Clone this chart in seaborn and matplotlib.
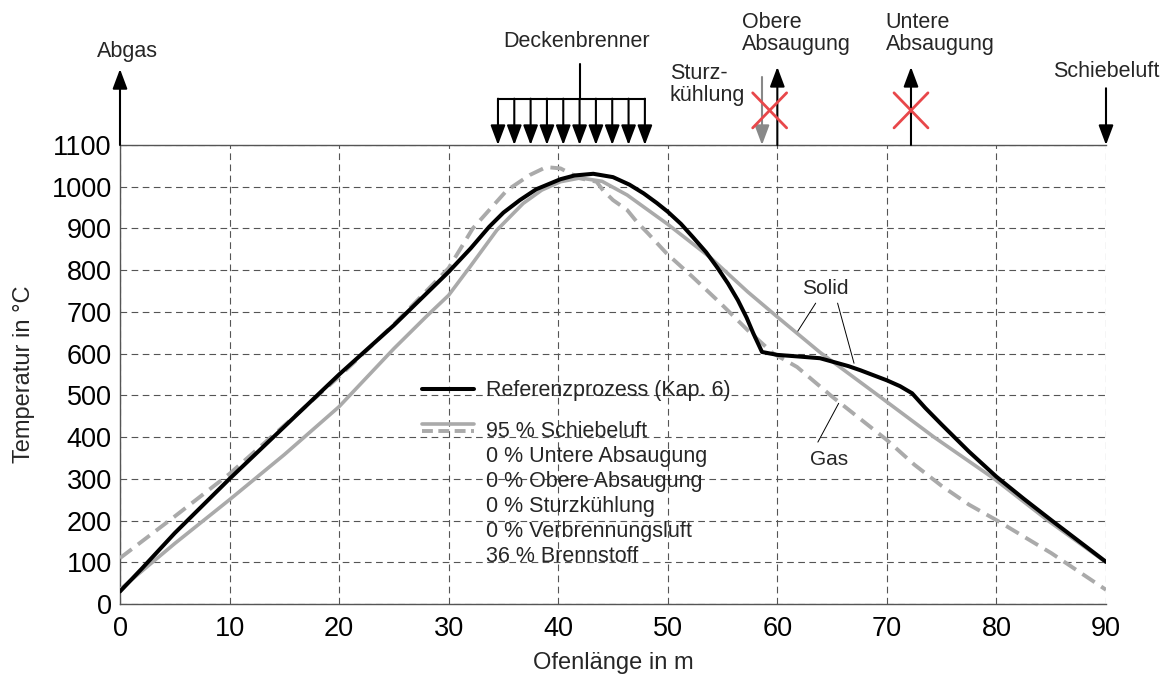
import numpy as np
import pandas as pd
import matplotlib
matplotlib.use("Agg")
import matplotlib.pyplot as plt
import seaborn as sns
from matplotlib.lines import Line2D
from matplotlib.legend_handler import HandlerBase

# ---------------- data ----------------
ref_x = [0, 2, 5, 10, 15, 20, 25, 30, 32, 33.7, 35, 36.5, 38, 40.2, 41.5, 43.2, 45, 46.5,
         47.8, 49, 50, 51.2, 52.3, 53.5, 54.5, 55.5, 56.4, 57.2, 57.8, 58.6, 60, 62, 63.9,
         65, 66.5, 67.6, 69, 70, 71.2, 72.3, 73.5, 75, 77.5, 80, 82.5, 85, 87.5, 90]
ref_y = [30, 85, 170, 300, 425, 550, 668, 796, 852, 904, 938, 968, 994, 1018, 1027, 1031,
         1023, 1005, 984, 961, 940, 911, 879, 843, 807, 768, 728, 686, 649, 604, 597, 593,
         589, 581, 570, 560, 546, 536, 522, 505, 470, 430, 365, 305, 252, 201, 151, 101]

solid_x = [0, 5, 10, 15, 20, 25, 28, 30, 32, 34.4, 36.8, 38.5, 40.2, 42, 44, 46.3, 50,
           53.9, 57.3, 60, 63.9, 69.2, 74.3, 79.8, 84.7, 90]
solid_y = [35, 145, 250, 358, 473, 612, 690, 740, 810, 896, 960, 992, 1012, 1021, 1013,
           980, 910, 830, 748, 688, 603, 500, 400, 300, 200, 100]

gas_x = [0, 5, 10, 15, 20, 25, 30, 32.2, 35.3, 37.4, 38.9, 40.2, 42, 43.5, 44.1, 45,
         46.3, 47.2, 48.2, 49.9, 52.3, 54.8, 57.3, 59.6, 61.8, 65, 70, 72.5, 75, 77.5,
         80, 85, 90]
gas_y = [110, 210, 312, 428, 545, 670, 805, 900, 991, 1028, 1047, 1044, 1020, 1012, 991,
         968, 944, 915, 888, 840, 783, 721, 656, 601, 568, 497, 393, 334, 283, 238,
         201, 122, 34]

x_ticks = list(range(0, 91, 10))
y_ticks = list(range(0, 1101, 100))

legend_ref = "Referenzprozess (Kap. 6)"
legend_lines = ["95 % Schiebeluft", "0 % Untere Absaugung", "0 % Obere Absaugung",
                "0 % Sturzkühlung", "0 % Verbrennungsluft", "36 % Brennstoff"]

burner_x = [34.5 + i * 1.49 for i in range(10)]

# ---------------- style ----------------
sns.set_style("white")
plt.rcParams["font.family"] = ["Liberation Sans", "DejaVu Sans"]

GRAY = "#aaaaaa"
fig = plt.figure(figsize=(11.68, 6.81), dpi=100)
ax = fig.add_axes([120 / 1168, 1 - 604 / 681, (1106 - 120) / 1168, (604 - 145) / 681])

df_solid = pd.DataFrame({"x": solid_x, "y": solid_y})
df_gas = pd.DataFrame({"x": gas_x, "y": gas_y})
df_ref = pd.DataFrame({"x": ref_x, "y": ref_y})

sns.lineplot(data=df_solid, x="x", y="y", ax=ax, color=GRAY, lw=2.6, zorder=3)
l_solid = ax.lines[-1]
sns.lineplot(data=df_gas, x="x", y="y", ax=ax, color=GRAY, lw=2.8, zorder=3)
l_gas = ax.lines[-1]
l_gas.set_dashes([3.8, 2.0])
l_gas.set_dash_capstyle("butt")
sns.lineplot(data=df_ref, x="x", y="y", ax=ax, color="black", lw=2.9, zorder=4)
l_ref = ax.lines[-1]
for ln in (l_solid, l_gas, l_ref):
    ln.set_solid_joinstyle("round")
    ln.set_dash_joinstyle("round")

ax.set_xlim(0, 90)
ax.set_ylim(0, 1100)
ax.set_xticks(x_ticks)
ax.set_yticks(y_ticks)
ax.tick_params(axis="both", length=0, labelsize=19.5, colors="black")
ax.tick_params(axis="y", pad=6)
ax.tick_params(axis="x", pad=9)
ax.set_xlabel("Ofenlänge in m", fontsize=17, labelpad=7)
ax.set_ylabel("Temperatur in °C", fontsize=17, labelpad=12)

ax.grid(True, color="#555555", lw=0.8, linestyle=(0, (6, 4)), zorder=1)
for s in ["left", "bottom", "top"]:
    ax.spines[s].set_color("#555555")
    ax.spines[s].set_linewidth(1.0)
ax.spines["right"].set_visible(False)

# ---------------- legends ----------------
class TwoLineHandler(HandlerBase):
    def create_artists(self, legend, orig_handle, xdescent, ydescent, width, height,
                       fontsize, trans):
        y0 = height / 2 - ydescent
        a = Line2D([-xdescent, width - xdescent], [y0 + 0.38 * height] * 2,
                   color=GRAY, lw=2.6, transform=trans)
        b = Line2D([-xdescent, width - xdescent], [y0 - 0.12 * height] * 2,
                   color=GRAY, lw=2.8, transform=trans)
        b.set_dashes([2.8, 1.4])
        b.set_dash_capstyle("butt")
        return [a, b]

LFS = 15.5
leg1 = ax.legend([l_ref], [legend_ref], loc="center left",
                 bbox_to_anchor=((423 - 121) / 985, (604 - 390.7) / 459),
                 frameon=False, fontsize=LFS, handlelength=2.4, handletextpad=0.55,
                 borderpad=0, borderaxespad=0)
ax.add_artist(leg1)

blank = [Line2D([], [], linestyle="none") for _ in legend_lines[1:]]
leg2 = ax.legend([(l_solid, l_gas)] + blank, legend_lines, loc="upper left",
                 bbox_to_anchor=((423 - 121) / 985, (604 - 421) / 459),
                 frameon=False, fontsize=LFS, handlelength=2.4, handletextpad=0.55,
                 labelspacing=0.19, borderpad=0, borderaxespad=0,
                 handler_map={tuple: TwoLineHandler()})

# ---------------- Solid / Gas labels ----------------
ax.text(64.4, 757, "Solid", fontsize=15, ha="center", va="center")
ax.plot([63.5, 61.8], [721, 651], color="black", lw=0.7)
ax.plot([65.5, 67.0], [721, 577], color="black", lw=0.7)
ax.text(64.7, 347, "Gas", fontsize=15, ha="center", va="center")
ax.plot([63.7, 65.6], [388, 481], color="black", lw=0.7)

# ---------------- top annotations ----------------
AP = dict(arrowstyle="-|>,head_length=1.2,head_width=0.45", lw=1.5, color="black",
          shrinkA=0, shrinkB=0, mutation_scale=10)

def arrow(x0, y0, x1, y1, color="black"):
    p = dict(AP)
    p["color"] = color
    ax.annotate("", xy=(x1, y1), xytext=(x0, y0), arrowprops=p, annotation_clip=False)

def cross(xc, yc, color="#e8474a"):
    ax.plot([xc - 1.55, xc + 1.55], [yc + 42, yc - 42], color=color, lw=2.0, clip_on=False, zorder=6)
    ax.plot([xc - 1.55, xc + 1.55], [yc - 42, yc + 42], color=color, lw=2.0, clip_on=False, zorder=6)

FS = 15.5
# Abgas
arrow(0, 1100, 0, 1282)
ax.text(0.65, 1323, "Abgas", fontsize=FS, ha="center", va="center")
# Deckenbrenner
ax.text(41.7, 1349, "Deckenbrenner", fontsize=FS, ha="center", va="center")
ax.plot([42, 42], [1211, 1295], color="black", lw=1.5, clip_on=False)
ax.plot([burner_x[0], burner_x[-1]], [1211, 1211], color="black", lw=1.5, clip_on=False)
for bx in burner_x:
    arrow(bx, 1211, bx, 1100)
# Sturzkühlung
ax.text(50.2, 1245, "Sturz-\nkühlung", fontsize=FS, ha="left", va="center", linespacing=1.1)
arrow(58.6, 1263, 58.6, 1100, color="#888888")
# Obere Absaugung
arrow(60, 1100, 60, 1287)
ax.text(56.8, 1367, "Obere\nAbsaugung", fontsize=FS, ha="left", va="center", linespacing=1.1)
cross(59.3, 1183)
# Untere Absaugung
arrow(72.2, 1100, 72.2, 1287)
ax.text(69.9, 1367, "Untere\nAbsaugung", fontsize=FS, ha="left", va="center", linespacing=1.1)
cross(72.2, 1183)
# Schiebeluft
arrow(90, 1236, 90, 1100)
ax.text(90, 1275, "Schiebeluft", fontsize=FS, ha="center", va="center")

fig.savefig("out.png", dpi=100)
